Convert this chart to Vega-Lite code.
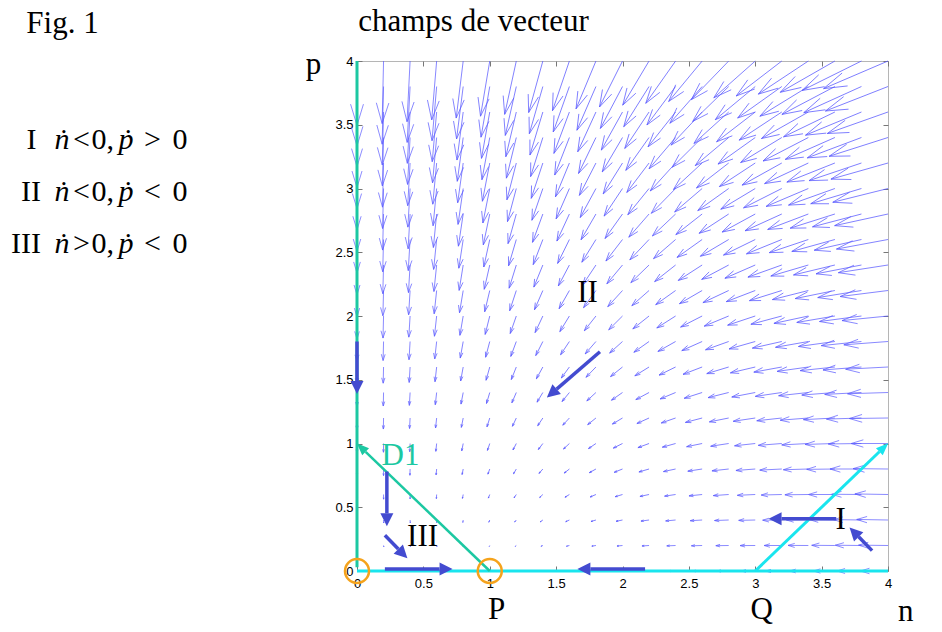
{
"$schema":"https://vega.github.io/schema/vega-lite/v6.json",
"width":531,"height":510,
"autosize":{"type":"none"},
"padding":{"left":357,"top":61,"right":54,"bottom":61},
"background":"white",
"config":{"view":{"stroke":"#b5b5b5","strokeWidth":1},"axis":{"grid":false,"domain":false,"labelFont":"Liberation Sans","labelFontSize":13,"labelColor":"#000","tickColor":"#777","tickSize":-5,"tickWidth":1,"title":null}},
"datasets":{
"field":[
{"n":0,"p":0,"m":0,"d":180},{"n":0,"p":0.2,"m":0.64,"d":180},{"n":0,"p":0.4,"m":1.36,"d":180},{"n":0,"p":0.6,"m":2.16,"d":180},{"n":0,"p":0.8,"m":3.04,"d":180},{"n":0,"p":1,"m":4,"d":180},{"n":0,"p":1.2,"m":5.04,"d":180},{"n":0,"p":1.4,"m":6.16,"d":180},{"n":0,"p":1.6,"m":7.36,"d":180},{"n":0,"p":1.8,"m":8.64,"d":180},{"n":0,"p":2,"m":10,"d":180},{"n":0,"p":2.2,"m":11.44,"d":180},{"n":0,"p":2.4,"m":12.96,"d":180},{"n":0,"p":2.6,"m":14.56,"d":180},{"n":0,"p":2.8,"m":16.24,"d":180},{"n":0,"p":3,"m":18,"d":180},{"n":0,"p":3.2,"m":19.84,"d":180},{"n":0,"p":3.4,"m":21.76,"d":180},{"n":0,"p":3.6,"m":23.76,"d":180},{"n":0,"p":3.8,"m":25.84,"d":180},{"n":0,"p":4,"m":28,"d":180},
{"n":0.2,"p":0,"m":0.16,"d":90},{"n":0.2,"p":0.2,"m":0.61,"d":168.7},{"n":0.2,"p":0.4,"m":1.28,"d":176.4},{"n":0.2,"p":0.6,"m":2.04,"d":178.9},{"n":0.2,"p":0.8,"m":2.88,"d":180},{"n":0.2,"p":1,"m":3.8,"d":180.6},{"n":0.2,"p":1.2,"m":4.8,"d":181},{"n":0.2,"p":1.4,"m":5.88,"d":181.2},{"n":0.2,"p":1.6,"m":7.04,"d":181.3},{"n":0.2,"p":1.8,"m":8.28,"d":181.4},{"n":0.2,"p":2,"m":9.6,"d":181.4},{"n":0.2,"p":2.2,"m":11,"d":181.5},{"n":0.2,"p":2.4,"m":12.48,"d":181.5},{"n":0.2,"p":2.6,"m":14.04,"d":181.5},{"n":0.2,"p":2.8,"m":15.69,"d":181.5},{"n":0.2,"p":3,"m":17.41,"d":181.4},{"n":0.2,"p":3.2,"m":19.21,"d":181.4},{"n":0.2,"p":3.4,"m":21.09,"d":181.4},{"n":0.2,"p":3.6,"m":23.05,"d":181.4},{"n":0.2,"p":3.8,"m":25.09,"d":181.4},{"n":0.2,"p":4,"m":27.21,"d":181.3},
{"n":0.4,"p":0,"m":0.24,"d":90},{"n":0.4,"p":0.2,"m":0.58,"d":164.1},{"n":0.4,"p":0.4,"m":1.2,"d":176.2},{"n":0.4,"p":0.6,"m":1.92,"d":180},{"n":0.4,"p":0.8,"m":2.72,"d":181.7},{"n":0.4,"p":1,"m":3.6,"d":182.5},{"n":0.4,"p":1.2,"m":4.57,"d":183},{"n":0.4,"p":1.4,"m":5.61,"d":183.3},{"n":0.4,"p":1.6,"m":6.73,"d":183.4},{"n":0.4,"p":1.8,"m":7.93,"d":183.5},{"n":0.4,"p":2,"m":9.22,"d":183.5},{"n":0.4,"p":2.2,"m":10.58,"d":183.5},{"n":0.4,"p":2.4,"m":12.02,"d":183.4},{"n":0.4,"p":2.6,"m":13.54,"d":183.4},{"n":0.4,"p":2.8,"m":15.15,"d":183.3},{"n":0.4,"p":3,"m":16.83,"d":183.3},{"n":0.4,"p":3.2,"m":18.59,"d":183.2},{"n":0.4,"p":3.4,"m":20.43,"d":183.1},{"n":0.4,"p":3.6,"m":22.35,"d":183.1},{"n":0.4,"p":3.8,"m":24.35,"d":183},{"n":0.4,"p":4,"m":26.44,"d":182.9},
{"n":0.6,"p":0,"m":0.24,"d":90},{"n":0.6,"p":0.2,"m":0.53,"d":167},{"n":0.6,"p":0.4,"m":1.12,"d":180},{"n":0.6,"p":0.6,"m":1.8,"d":183.8},{"n":0.6,"p":0.8,"m":2.57,"d":185.4},{"n":0.6,"p":1,"m":3.42,"d":186},{"n":0.6,"p":1.2,"m":4.35,"d":186.3},{"n":0.6,"p":1.4,"m":5.35,"d":186.4},{"n":0.6,"p":1.6,"m":6.44,"d":186.4},{"n":0.6,"p":1.8,"m":7.61,"d":186.3},{"n":0.6,"p":2,"m":8.85,"d":186.2},{"n":0.6,"p":2.2,"m":10.18,"d":186.1},{"n":0.6,"p":2.4,"m":11.58,"d":185.9},{"n":0.6,"p":2.6,"m":13.07,"d":185.8},{"n":0.6,"p":2.8,"m":14.63,"d":185.6},{"n":0.6,"p":3,"m":16.27,"d":185.5},{"n":0.6,"p":3.2,"m":18,"d":185.4},{"n":0.6,"p":3.4,"m":19.8,"d":185.2},{"n":0.6,"p":3.6,"m":21.69,"d":185.1},{"n":0.6,"p":3.8,"m":23.65,"d":184.9},{"n":0.6,"p":4,"m":25.69,"d":184.8},
{"n":0.8,"p":0,"m":0.16,"d":90},{"n":0.8,"p":0.2,"m":0.48,"d":180},{"n":0.8,"p":0.4,"m":1.05,"d":188.7},{"n":0.8,"p":0.6,"m":1.71,"d":190.8},{"n":0.8,"p":0.8,"m":2.45,"d":191.3},{"n":0.8,"p":1,"m":3.26,"d":191.3},{"n":0.8,"p":1.2,"m":4.16,"d":191.1},{"n":0.8,"p":1.4,"m":5.13,"d":190.8},{"n":0.8,"p":1.6,"m":6.18,"d":190.4},{"n":0.8,"p":1.8,"m":7.31,"d":190.1},{"n":0.8,"p":2,"m":8.52,"d":189.7},{"n":0.8,"p":2.2,"m":9.81,"d":189.4},{"n":0.8,"p":2.4,"m":11.18,"d":189.1},{"n":0.8,"p":2.6,"m":12.63,"d":188.7},{"n":0.8,"p":2.8,"m":14.15,"d":188.5},{"n":0.8,"p":3,"m":15.76,"d":188.2},{"n":0.8,"p":3.2,"m":17.45,"d":187.9},{"n":0.8,"p":3.4,"m":19.21,"d":187.7},{"n":0.8,"p":3.6,"m":21.06,"d":187.4},{"n":0.8,"p":3.8,"m":22.98,"d":187.2},{"n":0.8,"p":4,"m":24.99,"d":187},
{"n":1,"p":0,"m":0,"d":270},{"n":1,"p":0.2,"m":0.48,"d":204.4},{"n":1,"p":0.4,"m":1.04,"d":202.6},{"n":1,"p":0.6,"m":1.67,"d":201},{"n":1,"p":0.8,"m":2.38,"d":199.7},{"n":1,"p":1,"m":3.16,"d":198.4},{"n":1,"p":1.2,"m":4.02,"d":197.4},{"n":1,"p":1.4,"m":4.96,"d":196.4},{"n":1,"p":1.6,"m":5.98,"d":195.5},{"n":1,"p":1.8,"m":7.07,"d":194.7},{"n":1,"p":2,"m":8.25,"d":194},{"n":1,"p":2.2,"m":9.5,"d":193.4},{"n":1,"p":2.4,"m":10.83,"d":192.8},{"n":1,"p":2.6,"m":12.24,"d":192.3},{"n":1,"p":2.8,"m":13.73,"d":191.8},{"n":1,"p":3,"m":15.3,"d":191.3},{"n":1,"p":3.2,"m":16.94,"d":190.9},{"n":1,"p":3.4,"m":18.67,"d":190.5},{"n":1,"p":3.6,"m":20.48,"d":190.1},{"n":1,"p":3.8,"m":22.37,"d":189.8},{"n":1,"p":4,"m":24.33,"d":189.5},
{"n":1.2,"p":0,"m":0.24,"d":270},{"n":1.2,"p":0.2,"m":0.63,"d":230.2},{"n":1.2,"p":0.4,"m":1.14,"d":219.3},{"n":1.2,"p":0.6,"m":1.73,"d":213.7},{"n":1.2,"p":0.8,"m":2.4,"d":210},{"n":1.2,"p":1,"m":3.15,"d":207.2},{"n":1.2,"p":1.2,"m":3.97,"d":205},{"n":1.2,"p":1.4,"m":4.87,"d":203.2},{"n":1.2,"p":1.6,"m":5.85,"d":201.7},{"n":1.2,"p":1.8,"m":6.91,"d":200.3},{"n":1.2,"p":2,"m":8.05,"d":199.2},{"n":1.2,"p":2.2,"m":9.26,"d":198.1},{"n":1.2,"p":2.4,"m":10.55,"d":197.2},{"n":1.2,"p":2.6,"m":11.92,"d":196.4},{"n":1.2,"p":2.8,"m":13.37,"d":195.6},{"n":1.2,"p":3,"m":14.9,"d":194.9},{"n":1.2,"p":3.2,"m":16.51,"d":194.3},{"n":1.2,"p":3.4,"m":18.2,"d":193.7},{"n":1.2,"p":3.6,"m":19.97,"d":193.2},{"n":1.2,"p":3.8,"m":21.81,"d":192.7},{"n":1.2,"p":4,"m":23.74,"d":192.3},
{"n":1.4,"p":0,"m":0.56,"d":270},{"n":1.4,"p":0.2,"m":0.91,"d":246.8},{"n":1.4,"p":0.4,"m":1.38,"d":234.5},{"n":1.4,"p":0.6,"m":1.92,"d":226.7},{"n":1.4,"p":0.8,"m":2.55,"d":221.2},{"n":1.4,"p":1,"m":3.26,"d":217},{"n":1.4,"p":1.2,"m":4.04,"d":213.7},{"n":1.4,"p":1.4,"m":4.9,"d":211},{"n":1.4,"p":1.6,"m":5.84,"d":208.7},{"n":1.4,"p":1.8,"m":6.85,"d":206.7},{"n":1.4,"p":2,"m":7.95,"d":205},{"n":1.4,"p":2.2,"m":9.12,"d":203.5},{"n":1.4,"p":2.4,"m":10.37,"d":202.2},{"n":1.4,"p":2.6,"m":11.7,"d":201},{"n":1.4,"p":2.8,"m":13.11,"d":200},{"n":1.4,"p":3,"m":14.6,"d":199},{"n":1.4,"p":3.2,"m":16.17,"d":198.2},{"n":1.4,"p":3.4,"m":17.81,"d":197.4},{"n":1.4,"p":3.6,"m":19.54,"d":196.7},{"n":1.4,"p":3.8,"m":21.35,"d":196},{"n":1.4,"p":4,"m":23.23,"d":195.4},
{"n":1.6,"p":0,"m":0.96,"d":270},{"n":1.6,"p":0.2,"m":1.32,"d":256},{"n":1.6,"p":0.4,"m":1.76,"d":245.8},{"n":1.6,"p":0.6,"m":2.26,"d":238},{"n":1.6,"p":0.8,"m":2.85,"d":231.8},{"n":1.6,"p":1,"m":3.51,"d":226.8},{"n":1.6,"p":1.2,"m":4.25,"d":222.7},{"n":1.6,"p":1.4,"m":5.06,"d":219.2},{"n":1.6,"p":1.6,"m":5.95,"d":216.3},{"n":1.6,"p":1.8,"m":6.92,"d":213.7},{"n":1.6,"p":2,"m":7.97,"d":211.5},{"n":1.6,"p":2.2,"m":9.1,"d":209.5},{"n":1.6,"p":2.4,"m":10.31,"d":207.8},{"n":1.6,"p":2.6,"m":11.59,"d":206.2},{"n":1.6,"p":2.8,"m":12.96,"d":204.8},{"n":1.6,"p":3,"m":14.4,"d":203.6},{"n":1.6,"p":3.2,"m":15.93,"d":202.4},{"n":1.6,"p":3.4,"m":17.53,"d":201.4},{"n":1.6,"p":3.6,"m":19.21,"d":200.5},{"n":1.6,"p":3.8,"m":20.98,"d":199.6},{"n":1.6,"p":4,"m":22.82,"d":198.8},
{"n":1.8,"p":0,"m":1.44,"d":270},{"n":1.8,"p":0.2,"m":1.82,"d":261.2},{"n":1.8,"p":0.4,"m":2.25,"d":253.5},{"n":1.8,"p":0.6,"m":2.74,"d":246.8},{"n":1.8,"p":0.8,"m":3.3,"d":240.9},{"n":1.8,"p":1,"m":3.92,"d":235.8},{"n":1.8,"p":1.2,"m":4.61,"d":231.3},{"n":1.8,"p":1.4,"m":5.38,"d":227.4},{"n":1.8,"p":1.6,"m":6.22,"d":224},{"n":1.8,"p":1.8,"m":7.15,"d":220.9},{"n":1.8,"p":2,"m":8.15,"d":218.2},{"n":1.8,"p":2.2,"m":9.23,"d":215.8},{"n":1.8,"p":2.4,"m":10.38,"d":213.7},{"n":1.8,"p":2.6,"m":11.62,"d":211.8},{"n":1.8,"p":2.8,"m":12.94,"d":210.1},{"n":1.8,"p":3,"m":14.34,"d":208.5},{"n":1.8,"p":3.2,"m":15.81,"d":207.1},{"n":1.8,"p":3.4,"m":17.37,"d":205.8},{"n":1.8,"p":3.6,"m":19.01,"d":204.6},{"n":1.8,"p":3.8,"m":20.73,"d":203.5},{"n":1.8,"p":4,"m":22.52,"d":202.6},
{"n":2,"p":0,"m":2,"d":270},{"n":2,"p":0.2,"m":2.41,"d":264.3},{"n":2,"p":0.4,"m":2.86,"d":258.7},{"n":2,"p":0.6,"m":3.34,"d":253.3},{"n":2,"p":0.8,"m":3.88,"d":248.2},{"n":2,"p":1,"m":4.47,"d":243.4},{"n":2,"p":1.2,"m":5.13,"d":239},{"n":2,"p":1.4,"m":5.86,"d":235},{"n":2,"p":1.6,"m":6.66,"d":231.3},{"n":2,"p":1.8,"m":7.53,"d":228},{"n":2,"p":2,"m":8.49,"d":225},{"n":2,"p":2.2,"m":9.51,"d":222.3},{"n":2,"p":2.4,"m":10.62,"d":219.8},{"n":2,"p":2.6,"m":11.81,"d":217.6},{"n":2,"p":2.8,"m":13.08,"d":215.5},{"n":2,"p":3,"m":14.42,"d":213.7},{"n":2,"p":3.2,"m":15.85,"d":212},{"n":2,"p":3.4,"m":17.36,"d":210.5},{"n":2,"p":3.6,"m":18.94,"d":209.1},{"n":2,"p":3.8,"m":20.61,"d":207.8},{"n":2,"p":4,"m":22.36,"d":206.6},
{"n":2.2,"p":0,"m":2.64,"d":270},{"n":2.2,"p":0.2,"m":3.09,"d":266.3},{"n":2.2,"p":0.4,"m":3.55,"d":262.2},{"n":2.2,"p":0.6,"m":4.05,"d":258},{"n":2.2,"p":0.8,"m":4.58,"d":253.8},{"n":2.2,"p":1,"m":5.16,"d":249.6},{"n":2.2,"p":1.2,"m":5.8,"d":245.6},{"n":2.2,"p":1.4,"m":6.5,"d":241.7},{"n":2.2,"p":1.6,"m":7.26,"d":238.1},{"n":2.2,"p":1.8,"m":8.09,"d":234.7},{"n":2.2,"p":2,"m":9,"d":231.5},{"n":2.2,"p":2.2,"m":9.98,"d":228.6},{"n":2.2,"p":2.4,"m":11.03,"d":225.9},{"n":2.2,"p":2.6,"m":12.17,"d":223.4},{"n":2.2,"p":2.8,"m":13.38,"d":221.1},{"n":2.2,"p":3,"m":14.67,"d":219},{"n":2.2,"p":3.2,"m":16.05,"d":217.1},{"n":2.2,"p":3.4,"m":17.5,"d":215.3},{"n":2.2,"p":3.6,"m":19.04,"d":213.7},{"n":2.2,"p":3.8,"m":20.65,"d":212.2},{"n":2.2,"p":4,"m":22.35,"d":210.8},
{"n":2.4,"p":0,"m":3.36,"d":270},{"n":2.4,"p":0.2,"m":3.84,"d":267.6},{"n":2.4,"p":0.4,"m":4.34,"d":264.7},{"n":2.4,"p":0.6,"m":4.85,"d":261.5},{"n":2.4,"p":0.8,"m":5.4,"d":258},{"n":2.4,"p":1,"m":5.98,"d":254.5},{"n":2.4,"p":1.2,"m":6.6,"d":250.9},{"n":2.4,"p":1.4,"m":7.28,"d":247.4},{"n":2.4,"p":1.6,"m":8.01,"d":243.9},{"n":2.4,"p":1.8,"m":8.81,"d":240.6},{"n":2.4,"p":2,"m":9.68,"d":237.5},{"n":2.4,"p":2.2,"m":10.61,"d":234.5},{"n":2.4,"p":2.4,"m":11.62,"d":231.7},{"n":2.4,"p":2.6,"m":12.7,"d":229.1},{"n":2.4,"p":2.8,"m":13.87,"d":226.6},{"n":2.4,"p":3,"m":15.1,"d":224.4},{"n":2.4,"p":3.2,"m":16.42,"d":222.2},{"n":2.4,"p":3.4,"m":17.82,"d":220.3},{"n":2.4,"p":3.6,"m":19.3,"d":218.4},{"n":2.4,"p":3.8,"m":20.86,"d":216.7},{"n":2.4,"p":4,"m":22.51,"d":215.2},
{"n":2.6,"p":0,"m":4.16,"d":270},{"n":2.6,"p":0.2,"m":4.68,"d":268.5},{"n":2.6,"p":0.4,"m":5.21,"d":266.5},{"n":2.6,"p":0.6,"m":5.75,"d":264},{"n":2.6,"p":0.8,"m":6.31,"d":261.3},{"n":2.6,"p":1,"m":6.9,"d":258.3},{"n":2.6,"p":1.2,"m":7.53,"d":255.2},{"n":2.6,"p":1.4,"m":8.2,"d":252.1},{"n":2.6,"p":1.6,"m":8.91,"d":249},{"n":2.6,"p":1.8,"m":9.69,"d":245.9},{"n":2.6,"p":2,"m":10.52,"d":242.9},{"n":2.6,"p":2.2,"m":11.42,"d":239.9},{"n":2.6,"p":2.4,"m":12.38,"d":237.1},{"n":2.6,"p":2.6,"m":13.42,"d":234.5},{"n":2.6,"p":2.8,"m":14.53,"d":231.9},{"n":2.6,"p":3,"m":15.72,"d":229.5},{"n":2.6,"p":3.2,"m":16.98,"d":227.3},{"n":2.6,"p":3.4,"m":18.33,"d":225.2},{"n":2.6,"p":3.6,"m":19.75,"d":223.2},{"n":2.6,"p":3.8,"m":21.26,"d":221.3},{"n":2.6,"p":4,"m":22.84,"d":219.6},
{"n":2.8,"p":0,"m":5.04,"d":270},{"n":2.8,"p":0.2,"m":5.6,"d":269.2},{"n":2.8,"p":0.4,"m":6.17,"d":267.8},{"n":2.8,"p":0.6,"m":6.74,"d":265.9},{"n":2.8,"p":0.8,"m":7.32,"d":263.7},{"n":2.8,"p":1,"m":7.93,"d":261.3},{"n":2.8,"p":1.2,"m":8.57,"d":258.7},{"n":2.8,"p":1.4,"m":9.24,"d":256},{"n":2.8,"p":1.6,"m":9.95,"d":253.2},{"n":2.8,"p":1.8,"m":10.7,"d":250.3},{"n":2.8,"p":2,"m":11.51,"d":247.5},{"n":2.8,"p":2.2,"m":12.38,"d":244.8},{"n":2.8,"p":2.4,"m":13.31,"d":242},{"n":2.8,"p":2.6,"m":14.31,"d":239.4},{"n":2.8,"p":2.8,"m":15.38,"d":236.9},{"n":2.8,"p":3,"m":16.52,"d":234.5},{"n":2.8,"p":3.2,"m":17.73,"d":232.2},{"n":2.8,"p":3.4,"m":19.02,"d":230},{"n":2.8,"p":3.6,"m":20.39,"d":227.9},{"n":2.8,"p":3.8,"m":21.84,"d":225.9},{"n":2.8,"p":4,"m":23.37,"d":224},
{"n":3,"p":0,"m":6,"d":270},{"n":3,"p":0.2,"m":6.6,"d":269.7},{"n":3,"p":0.4,"m":7.2,"d":268.7},{"n":3,"p":0.6,"m":7.81,"d":267.4},{"n":3,"p":0.8,"m":8.42,"d":265.6},{"n":3,"p":1,"m":9.06,"d":263.7},{"n":3,"p":1.2,"m":9.71,"d":261.5},{"n":3,"p":1.4,"m":10.39,"d":259.1},{"n":3,"p":1.6,"m":11.1,"d":256.7},{"n":3,"p":1.8,"m":11.85,"d":254.1},{"n":3,"p":2,"m":12.65,"d":251.6},{"n":3,"p":2.2,"m":13.5,"d":249},{"n":3,"p":2.4,"m":14.4,"d":246.4},{"n":3,"p":2.6,"m":15.37,"d":243.9},{"n":3,"p":2.8,"m":16.4,"d":241.4},{"n":3,"p":3,"m":17.49,"d":239},{"n":3,"p":3.2,"m":18.66,"d":236.7},{"n":3,"p":3.4,"m":19.9,"d":234.5},{"n":3,"p":3.6,"m":21.22,"d":232.4},{"n":3,"p":3.8,"m":22.61,"d":230.3},{"n":3,"p":4,"m":24.08,"d":228.4},
{"n":3.2,"p":0,"m":7.04,"d":270},{"n":3.2,"p":0.2,"m":7.68,"d":270},{"n":3.2,"p":0.4,"m":8.32,"d":269.4},{"n":3.2,"p":0.6,"m":8.96,"d":268.5},{"n":3.2,"p":0.8,"m":9.61,"d":267.1},{"n":3.2,"p":1,"m":10.27,"d":265.5},{"n":3.2,"p":1.2,"m":10.95,"d":263.7},{"n":3.2,"p":1.4,"m":11.64,"d":261.7},{"n":3.2,"p":1.6,"m":12.36,"d":259.6},{"n":3.2,"p":1.8,"m":13.12,"d":257.3},{"n":3.2,"p":2,"m":13.91,"d":255},{"n":3.2,"p":2.2,"m":14.75,"d":252.6},{"n":3.2,"p":2.4,"m":15.64,"d":250.3},{"n":3.2,"p":2.6,"m":16.58,"d":247.9},{"n":3.2,"p":2.8,"m":17.58,"d":245.5},{"n":3.2,"p":3,"m":18.64,"d":243.2},{"n":3.2,"p":3.2,"m":19.77,"d":240.9},{"n":3.2,"p":3.4,"m":20.96,"d":238.7},{"n":3.2,"p":3.6,"m":22.23,"d":236.6},{"n":3.2,"p":3.8,"m":23.58,"d":234.5},{"n":3.2,"p":4,"m":24.99,"d":232.5},
{"n":3.4,"p":0,"m":8.16,"d":270},{"n":3.4,"p":0.2,"m":8.84,"d":270.3},{"n":3.4,"p":0.4,"m":9.52,"d":270},{"n":3.4,"p":0.6,"m":10.2,"d":269.3},{"n":3.4,"p":0.8,"m":10.88,"d":268.3},{"n":3.4,"p":1,"m":11.58,"d":267},{"n":3.4,"p":1.2,"m":12.28,"d":265.5},{"n":3.4,"p":1.4,"m":13,"d":263.8},{"n":3.4,"p":1.6,"m":13.73,"d":262},{"n":3.4,"p":1.8,"m":14.5,"d":260},{"n":3.4,"p":2,"m":15.3,"d":257.9},{"n":3.4,"p":2.2,"m":16.13,"d":255.8},{"n":3.4,"p":2.4,"m":17.01,"d":253.6},{"n":3.4,"p":2.6,"m":17.94,"d":251.4},{"n":3.4,"p":2.8,"m":18.91,"d":249.2},{"n":3.4,"p":3,"m":19.95,"d":247},{"n":3.4,"p":3.2,"m":21.04,"d":244.8},{"n":3.4,"p":3.4,"m":22.2,"d":242.6},{"n":3.4,"p":3.6,"m":23.43,"d":240.5},{"n":3.4,"p":3.8,"m":24.72,"d":238.5},{"n":3.4,"p":4,"m":26.09,"d":236.5},
{"n":3.6,"p":0,"m":9.36,"d":270},{"n":3.6,"p":0.2,"m":10.08,"d":270.5},{"n":3.6,"p":0.4,"m":10.8,"d":270.4},{"n":3.6,"p":0.6,"m":11.52,"d":270},{"n":3.6,"p":0.8,"m":12.24,"d":269.3},{"n":3.6,"p":1,"m":12.97,"d":268.2},{"n":3.6,"p":1.2,"m":13.7,"d":267},{"n":3.6,"p":1.4,"m":14.44,"d":265.6},{"n":3.6,"p":1.6,"m":15.2,"d":264},{"n":3.6,"p":1.8,"m":15.99,"d":262.2},{"n":3.6,"p":2,"m":16.8,"d":260.4},{"n":3.6,"p":2.2,"m":17.63,"d":258.5},{"n":3.6,"p":2.4,"m":18.51,"d":256.5},{"n":3.6,"p":2.6,"m":19.43,"d":254.5},{"n":3.6,"p":2.8,"m":20.39,"d":252.4},{"n":3.6,"p":3,"m":21.41,"d":250.3},{"n":3.6,"p":3.2,"m":22.48,"d":248.3},{"n":3.6,"p":3.4,"m":23.6,"d":246.2},{"n":3.6,"p":3.6,"m":24.8,"d":244.2},{"n":3.6,"p":3.8,"m":26.05,"d":242.2},{"n":3.6,"p":4,"m":27.38,"d":240.2},
{"n":3.8,"p":0,"m":10.64,"d":270},{"n":3.8,"p":0.2,"m":11.4,"d":270.6},{"n":3.8,"p":0.4,"m":12.16,"d":270.8},{"n":3.8,"p":0.6,"m":12.92,"d":270.5},{"n":3.8,"p":0.8,"m":13.68,"d":270},{"n":3.8,"p":1,"m":14.44,"d":269.2},{"n":3.8,"p":1.2,"m":15.21,"d":268.2},{"n":3.8,"p":1.4,"m":15.98,"d":267},{"n":3.8,"p":1.6,"m":16.77,"d":265.6},{"n":3.8,"p":1.8,"m":17.57,"d":264.1},{"n":3.8,"p":2,"m":18.4,"d":262.5},{"n":3.8,"p":2.2,"m":19.25,"d":260.8},{"n":3.8,"p":2.4,"m":20.13,"d":259},{"n":3.8,"p":2.6,"m":21.05,"d":257.2},{"n":3.8,"p":2.8,"m":22,"d":255.3},{"n":3.8,"p":3,"m":23.01,"d":253.3},{"n":3.8,"p":3.2,"m":24.06,"d":251.4},{"n":3.8,"p":3.4,"m":25.16,"d":249.4},{"n":3.8,"p":3.6,"m":26.33,"d":247.5},{"n":3.8,"p":3.8,"m":27.55,"d":245.6},{"n":3.8,"p":4,"m":28.84,"d":243.6},
{"n":4,"p":0,"m":12,"d":270},{"n":4,"p":0.2,"m":12.8,"d":270.7},{"n":4,"p":0.4,"m":13.6,"d":271},{"n":4,"p":0.6,"m":14.4,"d":271},{"n":4,"p":0.8,"m":15.2,"d":270.6},{"n":4,"p":1,"m":16,"d":270},{"n":4,"p":1.2,"m":16.8,"d":269.2},{"n":4,"p":1.4,"m":17.61,"d":268.2},{"n":4,"p":1.6,"m":18.43,"d":267},{"n":4,"p":1.8,"m":19.25,"d":265.7},{"n":4,"p":2,"m":20.1,"d":264.3},{"n":4,"p":2.2,"m":20.97,"d":262.8},{"n":4,"p":2.4,"m":21.86,"d":261.2},{"n":4,"p":2.6,"m":22.78,"d":259.5},{"n":4,"p":2.8,"m":23.74,"d":257.7},{"n":4,"p":3,"m":24.74,"d":256},{"n":4,"p":3.2,"m":25.78,"d":254.2},{"n":4,"p":3.4,"m":26.87,"d":252.3},{"n":4,"p":3.6,"m":28.01,"d":250.5},{"n":4,"p":3.8,"m":29.21,"d":248.6},{"n":4,"p":4,"m":30.46,"d":246.8}
]},
"layer":[
{"data":{"name":"field"},
 "mark":{"type":"point","shape":"M0,0L0,-2M-0.2,-1.34L0,-2L0.2,-1.34","filled":false,"color":"#5a5aff","strokeWidth":0.7,"opacity":1},
 "encoding":{
  "x":{"field":"n","type":"quantitative","scale":{"domain":[0,4],"nice":false,"zero":false},"axis":{"orient":"bottom","values":[0,0.5,1,1.5,2,2.5,3,3.5,4],"format":"~g","labelPadding":11,"labelFlush":false}},
  "y":{"field":"p","type":"quantitative","scale":{"domain":[0,4],"nice":false,"zero":false},"axis":{"orient":"left","values":[0,0.5,1,1.5,2,2.5,3,3.5,4],"format":"~g","labelPadding":9,"labelFlush":false}},
  "size":{"field":"m","type":"quantitative","scale":{"type":"pow","exponent":2,"domain":[0,30],"range":[0,4761]},"legend":null},
  "angle":{"field":"d","type":"quantitative","scale":null}
 }},
{"data":{"values":[{"n":0,"p":0.03,"n2":0,"p2":4}]},
 "mark":{"type":"rule","color":"#1cc8a2","strokeWidth":3},
 "encoding":{
  "x":{"field":"n","type":"quantitative","axis":{"orient":"top","labels":false,"values":[0,0.5,1,1.5,2,2.5,3,3.5,4]}},
  "y":{"field":"p","type":"quantitative","axis":{"orient":"right","labels":false,"values":[0,0.5,1,1.5,2,2.5,3,3.5,4]}},
  "x2":{"field":"n2"},"y2":{"field":"p2"}}},
{"data":{"values":[{"n":0,"p":0,"n2":4,"p2":0},{"n":3,"p":0,"n2":3.935,"p2":0.935}]},
 "mark":{"type":"rule","color":"#19e5ee","strokeWidth":3},
 "encoding":{"x":{"field":"n","type":"quantitative","axis":null},"y":{"field":"p","type":"quantitative","axis":null},"x2":{"field":"n2"},"y2":{"field":"p2"}}},
{"data":{"values":[{"n":1,"p":0,"n2":0.065,"p2":0.935}]},
 "mark":{"type":"rule","color":"#1cc8a2","strokeWidth":2.5},
 "encoding":{"x":{"field":"n","type":"quantitative","axis":null},"y":{"field":"p","type":"quantitative","axis":null},"x2":{"field":"n2"},"y2":{"field":"p2"}}},
{"data":{"values":[{"n":0.065,"p":0.935,"d":313.9,"c":"g"},{"n":3.935,"p":0.935,"d":46.1,"c":"c"}]},
 "mark":{"type":"point","shape":"M0,-2L-0.8,0L0.8,0Z","filled":true,"size":150,"opacity":1,"strokeWidth":0},
 "encoding":{"x":{"field":"n","type":"quantitative","axis":null},"y":{"field":"p","type":"quantitative","axis":null},
  "angle":{"field":"d","type":"quantitative","scale":null},
  "color":{"field":"c","type":"nominal","scale":{"domain":["g","c"],"range":["#1cc8a2","#19e5ee"]},"legend":null}}},
{"data":{"values":[
  {"n":0,"p":1.8,"n2":0,"p2":1.49},
  {"n":1.83,"p":1.72,"n2":1.504,"p2":1.427},
  {"n":0.225,"p":0.78,"n2":0.225,"p2":0.452},
  {"n":0.21,"p":0.28,"n2":0.311,"p2":0.172},
  {"n":0.21,"p":0.015,"n2":0.622,"p2":0.015},
  {"n":2.17,"p":0.015,"n2":1.758,"p2":0.015},
  {"n":3.61,"p":0.41,"n2":3.198,"p2":0.41},
  {"n":3.88,"p":0.16,"n2":3.779,"p2":0.268}]},
 "mark":{"type":"rule","color":"#434bd0","strokeWidth":3.5},
 "encoding":{"x":{"field":"n","type":"quantitative","axis":null},"y":{"field":"p","type":"quantitative","axis":null},"x2":{"field":"n2"},"y2":{"field":"p2"}}},
{"data":{"values":[
  {"n":0,"p":1.49,"d":180},
  {"n":1.504,"p":1.427,"d":229},
  {"n":0.225,"p":0.452,"d":180},
  {"n":0.311,"p":0.172,"d":135.5},
  {"n":0.622,"p":0.015,"d":90},
  {"n":1.758,"p":0.015,"d":270},
  {"n":3.198,"p":0.41,"d":270},
  {"n":3.779,"p":0.268,"d":315.5}]},
 "mark":{"type":"point","shape":"M0,-2L-1,0L1,0Z","filled":true,"size":169,"color":"#434bd0","opacity":1,"strokeWidth":0},
 "encoding":{"x":{"field":"n","type":"quantitative","axis":null},"y":{"field":"p","type":"quantitative","axis":null},
  "angle":{"field":"d","type":"quantitative","scale":null}}},
{"data":{"values":[{"n":0,"p":0},{"n":1,"p":0}]},
 "mark":{"type":"point","shape":"circle","filled":false,"size":576,"color":"#f5a31c","strokeWidth":2.5,"opacity":1},
 "encoding":{"x":{"field":"n","type":"quantitative","axis":null},"y":{"field":"p","type":"quantitative","axis":null}}},
{"data":{"values":[
  {"t":"champs de vecteur","n":0.878,"p":4.236},
  {"t":"p","n":-0.328,"p":3.899},
  {"t":"n","n":4.133,"p":-0.396},
  {"t":"P","n":1.051,"p":-0.38},
  {"t":"Q","n":3.048,"p":-0.38},
  {"t":"II","n":1.737,"p":2.112},
  {"t":"III","n":0.494,"p":0.2},
  {"t":"I","n":3.644,"p":0.331}]},
 "mark":{"type":"text","font":"Liberation Serif","fontSize":31,"color":"#000","align":"center","baseline":"alphabetic"},
 "encoding":{"x":{"field":"n","type":"quantitative","axis":null},"y":{"field":"p","type":"quantitative","axis":null},"text":{"field":"t"}}},
{"data":{"values":[{"t":"Fig. 1","n":-2.491,"p":4.218}]},
 "mark":{"type":"text","font":"Liberation Serif","fontSize":31,"color":"#000","align":"left","baseline":"alphabetic"},
 "encoding":{"x":{"field":"n","type":"quantitative","axis":null},"y":{"field":"p","type":"quantitative","axis":null},"text":{"field":"t"}}},
{"data":{"values":[{"t":"D1","n":0.328,"p":0.835}]},
 "mark":{"type":"text","font":"Liberation Serif","fontSize":31,"color":"#1cc8a2","align":"center","baseline":"alphabetic"},
 "encoding":{"x":{"field":"n","type":"quantitative","axis":null},"y":{"field":"p","type":"quantitative","axis":null},"text":{"field":"t"}}},
{"data":{"values":[{"t":"I","n":-2.415,"p":3.309},{"t":"II","n":-2.381,"p":2.904},{"t":"III","n":-2.381,"p":2.498}]},
 "mark":{"type":"text","font":"Liberation Serif","fontSize":30,"color":"#000","align":"right","baseline":"alphabetic"},
 "encoding":{"x":{"field":"n","type":"quantitative","axis":null},"y":{"field":"p","type":"quantitative","axis":null},"text":{"field":"t"}}},
{"data":{"values":[
  {"t":"ṅ","n":-2.2795,"p":3.309},{"t":"ṗ","n":-1.7973,"p":3.309},
  {"t":"ṅ","n":-2.2795,"p":2.904},{"t":"ṗ","n":-1.7973,"p":2.904},
  {"t":"ṅ","n":-2.2795,"p":2.498},{"t":"ṗ","n":-1.7973,"p":2.498}]},
 "mark":{"type":"text","font":"Liberation Serif","fontSize":30,"fontStyle":"italic","color":"#000","align":"left","baseline":"alphabetic"},
 "encoding":{"x":{"field":"n","type":"quantitative","axis":null},"y":{"field":"p","type":"quantitative","axis":null},"text":{"field":"t"}}},
{"data":{"values":[
  {"t":"<","n":-2.0761,"p":3.309},{"t":">","n":-1.5411,"p":3.309},
  {"t":"<","n":-2.0761,"p":2.904},{"t":"<","n":-1.5411,"p":2.904},
  {"t":">","n":-2.0761,"p":2.498},{"t":"<","n":-1.5411,"p":2.498}]},
 "mark":{"type":"text","font":"Liberation Serif","fontSize":30,"color":"#000","align":"center","baseline":"alphabetic"},
 "encoding":{"x":{"field":"n","type":"quantitative","axis":null},"y":{"field":"p","type":"quantitative","axis":null},"text":{"field":"t"}}},
{"data":{"values":[
  {"t":"0,","n":-2.0008,"p":3.309},{"t":"0","n":-1.3904,"p":3.309},
  {"t":"0,","n":-2.0008,"p":2.904},{"t":"0","n":-1.3904,"p":2.904},
  {"t":"0,","n":-2.0008,"p":2.498},{"t":"0","n":-1.3904,"p":2.498}]},
 "mark":{"type":"text","font":"Liberation Serif","fontSize":30,"color":"#000","align":"left","baseline":"alphabetic"},
 "encoding":{"x":{"field":"n","type":"quantitative","axis":null},"y":{"field":"p","type":"quantitative","axis":null},"text":{"field":"t"}}}
],
"resolve":{"axis":{"x":"independent","y":"independent"}}
}
